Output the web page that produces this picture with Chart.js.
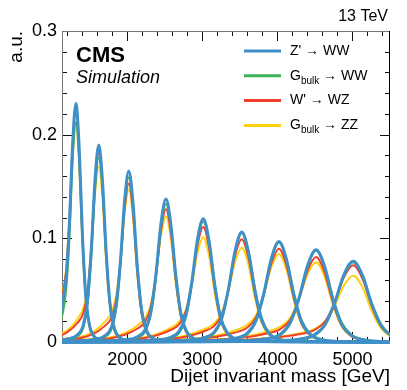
<!DOCTYPE html>
<html>
<head>
<meta charset="utf-8">
<script src="https://cdn.jsdelivr.net/npm/chart.js@4.4.1/dist/chart.umd.min.js"></script>
<style>
  html, body { margin: 0; padding: 0; background: #fff; }
  #wrap { width: 407px; height: 390px; }
</style>
</head>
<body>
<div id="wrap"><canvas id="chart" width="407" height="390"></canvas></div>
<script>
// ─── Data ────────────────────────────────────────────────────────────────────

// resonance peaks, GeV
const massPeaks = [1300, 1600, 2000, 2500, 3000, 3500, 4000, 4500, 5000];

// dijet mass sample points for each resonance [GeV]
const massX = [
  [595, 811, 955, 1063, 1135, 1185, 1229, 1272, 1315, 1358, 1401, 1445, 1495, 1567, 1675, 5600],
  [800, 1046, 1210, 1333, 1415, 1472, 1522, 1571, 1620, 1669, 1718, 1768, 1825, 1907, 2030, 5600],
  [1100, 1376, 1560, 1698, 1790, 1854, 1910, 1965, 2020, 2075, 2130, 2186, 2250, 2342, 2480, 5600],
  [1000, 1415, 1745, 1965, 2130, 2240, 2317, 2383, 2449, 2515, 2581, 2647, 2713, 2790, 2900, 3065, 5600],
  [1000, 1732, 2116, 2372, 2564, 2692, 2782, 2858, 2935, 3012, 3089, 3166, 3242, 3332, 3460, 3652, 5600],
  [1000, 2045, 2489, 2785, 3007, 3155, 3259, 3347, 3436, 3525, 3614, 3703, 3791, 3895, 4043, 4265, 5600],
  [1000, 2340, 2844, 3180, 3432, 3600, 3718, 3818, 3919, 4020, 4121, 4222, 4322, 4440, 4608, 4860, 5600],
  [1000, 2635, 3199, 3575, 3857, 4045, 4177, 4289, 4402, 4515, 4628, 4741, 4853, 4985, 5173, 5455, 5600],
  [1000, 2930, 3554, 3970, 4282, 4490, 4636, 4760, 4885, 5010, 5135, 5260, 5384, 5530, 5738, 6050],
];

// Z' -> WW
const zprimeWW = [
  [0.001, 0.003, 0.008, 0.018, 0.038, 0.062, 0.115, 0.191, 0.230, 0.1886, 0.1058, 0.046, 0.0166, 0.0046, 0.0012, 0],
  [0.0006, 0.0013, 0.0029, 0.0067, 0.0167, 0.0418, 0.0912, 0.1577, 0.190, 0.1558, 0.0874, 0.038, 0.0137, 0.0038, 0.001, 0],
  [0.0005, 0.0012, 0.0025, 0.0058, 0.0145, 0.0363, 0.0792, 0.137, 0.165, 0.1353, 0.0759, 0.033, 0.0119, 0.0033, 0.0008, 0],
  [0, 0.0004, 0.001, 0.0021, 0.0048, 0.0121, 0.0304, 0.0662, 0.1145, 0.138, 0.1132, 0.0635, 0.0276, 0.0099, 0.0028, 0.0007, 0],
  [0, 0.0004, 0.0008, 0.0018, 0.0042, 0.0105, 0.0262, 0.0571, 0.0988, 0.119, 0.0976, 0.0547, 0.0238, 0.0086, 0.0024, 0.0006, 0],
  [0, 0.0003, 0.0007, 0.0016, 0.0037, 0.0093, 0.0233, 0.0509, 0.088, 0.106, 0.0869, 0.0488, 0.0212, 0.0076, 0.0021, 0.0005, 0],
  [0, 0.0003, 0.0007, 0.0015, 0.0034, 0.0085, 0.0213, 0.0466, 0.0805, 0.097, 0.0795, 0.0446, 0.0194, 0.007, 0.0019, 0.0005, 0],
  [0, 0.0003, 0.0006, 0.0013, 0.0031, 0.0078, 0.0196, 0.0427, 0.0739, 0.089, 0.073, 0.0409, 0.0178, 0.0064, 0.0018, 0.0004, 0],
  [0, 0.0002, 0.0005, 0.0012, 0.0027, 0.0069, 0.0172, 0.0374, 0.0647, 0.078, 0.064, 0.0359, 0.0156, 0.0056, 0.0016, 0.0004],
];

// G_bulk -> WW
const gbulkWW = [
  [0.001, 0.002, 0.005, 0.012, 0.026, 0.05, 0.10, 0.176, 0.212, 0.176, 0.1018, 0.0466, 0.0174, 0.0053, 0.0013, 0],
  [0.0004, 0.0009, 0.0021, 0.0053, 0.0139, 0.0374, 0.0837, 0.1477, 0.178, 0.1477, 0.0854, 0.0392, 0.0146, 0.0045, 0.0011, 0],
  [0.0003, 0.0008, 0.0019, 0.0048, 0.0124, 0.0334, 0.0747, 0.132, 0.159, 0.132, 0.0763, 0.035, 0.013, 0.004, 0.001, 0],
  [0, 0.0003, 0.0007, 0.0016, 0.004, 0.0104, 0.0279, 0.0625, 0.1104, 0.133, 0.1104, 0.0638, 0.0293, 0.0109, 0.0033, 0.0008, 0],
  [0, 0.0002, 0.0006, 0.0014, 0.0035, 0.009, 0.0244, 0.0545, 0.0963, 0.116, 0.0963, 0.0557, 0.0255, 0.0095, 0.0029, 0.0007, 0],
  [0, 0.0002, 0.0005, 0.0013, 0.0032, 0.0082, 0.0221, 0.0494, 0.0872, 0.105, 0.0872, 0.0504, 0.0231, 0.0086, 0.0026, 0.0006, 0],
  [0, 0.0002, 0.0005, 0.0012, 0.0029, 0.0075, 0.0202, 0.0451, 0.0797, 0.096, 0.0797, 0.0461, 0.0211, 0.0079, 0.0024, 0.0006, 0],
  [0, 0.0002, 0.0004, 0.0011, 0.0026, 0.0069, 0.0185, 0.0414, 0.073, 0.088, 0.073, 0.0422, 0.0194, 0.0072, 0.0022, 0.0005, 0],
  [0, 0.0002, 0.0004, 0.0009, 0.0023, 0.006, 0.0162, 0.0362, 0.0639, 0.077, 0.0639, 0.037, 0.0169, 0.0063, 0.0019, 0.0005],
];

// W' -> WZ
const wprimeWZ = [
  [0.004, 0.008, 0.015, 0.028, 0.045, 0.068, 0.118, 0.19, 0.226, 0.1853, 0.104, 0.0452, 0.0163, 0.0045, 0.0011, 0],
  [0.0027, 0.0046, 0.010, 0.0182, 0.0282, 0.0491, 0.0928, 0.1529, 0.182, 0.1492, 0.0837, 0.0364, 0.0131, 0.0036, 0.0009, 0],
  [0.0023, 0.0038, 0.0084, 0.0153, 0.0237, 0.0413, 0.078, 0.1285, 0.153, 0.1255, 0.0704, 0.0306, 0.011, 0.0031, 0.0008, 0],
  [0, 0.0019, 0.0032, 0.007, 0.0128, 0.0198, 0.0346, 0.0653, 0.1075, 0.128, 0.105, 0.0589, 0.0256, 0.0092, 0.0026, 0.0006, 0],
  [0, 0.0017, 0.0028, 0.0061, 0.0111, 0.0172, 0.03, 0.0566, 0.0932, 0.111, 0.091, 0.0511, 0.0222, 0.008, 0.0022, 0.0006, 0],
  [0, 0.0015, 0.0025, 0.0054, 0.0099, 0.0153, 0.0267, 0.0505, 0.0832, 0.099, 0.0812, 0.0455, 0.0198, 0.0071, 0.002, 0.0005, 0],
  [0, 0.0014, 0.0023, 0.005, 0.009, 0.014, 0.0243, 0.0459, 0.0756, 0.090, 0.0738, 0.0414, 0.018, 0.0065, 0.0018, 0.0005, 0],
  [0, 0.0012, 0.0021, 0.0045, 0.0082, 0.0127, 0.0221, 0.0418, 0.0689, 0.082, 0.0672, 0.0377, 0.0164, 0.0059, 0.0016, 0.0004, 0],
  [0, 0.0011, 0.0019, 0.0041, 0.0074, 0.0115, 0.02, 0.0377, 0.0622, 0.074, 0.0607, 0.034, 0.0148, 0.0053, 0.0015, 0.0004],
];

// G_bulk -> ZZ
const gbulkZZ = [
  [0.005, 0.010, 0.018, 0.032, 0.048, 0.07, 0.118, 0.1785, 0.210, 0.1722, 0.0966, 0.042, 0.0151, 0.0042, 0.001, 0],
  [0.0034, 0.0059, 0.0118, 0.022, 0.033, 0.0524, 0.0913, 0.1437, 0.169, 0.1386, 0.0777, 0.0338, 0.0122, 0.0034, 0.0008, 0],
  [0.0029, 0.0051, 0.0103, 0.0191, 0.0287, 0.0456, 0.0794, 0.125, 0.147, 0.1205, 0.0676, 0.0294, 0.0106, 0.0029, 0.0007, 0],
  [0, 0.0024, 0.0042, 0.0085, 0.0157, 0.0236, 0.0375, 0.0653, 0.1029, 0.121, 0.0992, 0.0557, 0.0242, 0.0087, 0.0024, 0.0006, 0],
  [0, 0.002, 0.0035, 0.0071, 0.0131, 0.0197, 0.0313, 0.0545, 0.0859, 0.101, 0.0828, 0.0465, 0.0202, 0.0073, 0.002, 0.0005, 0],
  [0, 0.0018, 0.0032, 0.0064, 0.0118, 0.0177, 0.0282, 0.0491, 0.0774, 0.091, 0.0746, 0.0419, 0.0182, 0.0066, 0.0018, 0.0005, 0],
  [0, 0.0017, 0.003, 0.006, 0.0111, 0.0166, 0.0264, 0.0459, 0.0723, 0.085, 0.0697, 0.0391, 0.017, 0.0061, 0.0017, 0.0004, 0],
  [0, 0.0015, 0.0027, 0.0054, 0.010, 0.015, 0.0239, 0.0416, 0.0655, 0.077, 0.0631, 0.0354, 0.0154, 0.0055, 0.0015, 0.0004, 0],
  [0, 0.0013, 0.0022, 0.0045, 0.0083, 0.0125, 0.0198, 0.0346, 0.0544, 0.064, 0.0525, 0.0294, 0.0128, 0.0046, 0.0013, 0.0003],
];

// axis ranges and tick labels
const xRange = [1130, 5500];
const yRange = [0, 0.3];
const xTickValues = [2000, 3000, 4000, 5000];
const yTickValues = [0, 0.1, 0.2, 0.3];
const yTickLabels = ["0", "0.1", "0.2", "0.3"];
const X_MINOR_STEP = 200;
const Y_MINOR_STEP = 0.02;

// ─── Styles ──────────────────────────────────────────────────────────────────

const FONT = "'Liberation Sans', Arial, Helvetica, sans-serif";
const COLOR_BLUE   = "#3f8fc8";
const COLOR_GREEN  = "#3fb257";
const COLOR_RED    = "#ef402c";
const COLOR_YELLOW = "#ffd20f";

// blue first: Chart.js paints dataset 0 last, i.e. on top
const series = [
  { main: "Z'", sub: "",     rest: " \u2192 WW", values: zprimeWW, color: COLOR_BLUE,   width: 3 },
  { main: "G",  sub: "bulk", rest: " \u2192 WW", values: gbulkWW,  color: COLOR_GREEN,  width: 2 },
  { main: "W'", sub: "",     rest: " \u2192 WZ", values: wprimeWZ, color: COLOR_RED,    width: 2 },
  { main: "G",  sub: "bulk", rest: " \u2192 ZZ", values: gbulkZZ,  color: COLOR_YELLOW, width: 2 },
];

const datasets = [];
series.forEach(s => {
  massPeaks.forEach((m, i) => {
    datasets.push({
      label: s.main + s.sub + s.rest + " " + m,
      data: massX[i].map((x, j) => ({ x: x, y: s.values[i][j] })),
      borderColor: s.color,
      borderWidth: s.width,
      pointRadius: 0,
      fill: false,
      cubicInterpolationMode: "monotone",
      clip: { left: 0, top: 0, right: 0, bottom: 4 },
    });
  });
});

// ─── Plugin: frame, inward ticks (all four sides), labels, legend ───────────

const frameTicks = {
  id: "frameTicks",
  beforeDatasetsDraw(chart) {
    const { ctx, chartArea: a, scales: { x, y } } = chart;
    ctx.save();
    ctx.lineWidth = 1;
    ctx.strokeStyle = "#111";
    ctx.beginPath();
    const isMajorX = v => xTickValues.includes(v);
    for (let v = Math.ceil(xRange[0] / X_MINOR_STEP) * X_MINOR_STEP; v <= xRange[1]; v += X_MINOR_STEP) {
      const px = Math.round(x.getPixelForValue(v)) + 0.5;
      const len = isMajorX(v) ? 10 : 5;
      ctx.moveTo(px, a.bottom); ctx.lineTo(px, a.bottom - len);
      ctx.moveTo(px, a.top);    ctx.lineTo(px, a.top + len);
    }
    for (let k = 0; k * Y_MINOR_STEP <= yRange[1] + 1e-9; k++) {
      const v = k * Y_MINOR_STEP;
      const py = Math.round(y.getPixelForValue(v)) + 0.5;
      const len = (k % 5 === 0) ? 10 : 5;
      ctx.moveTo(a.left, py);  ctx.lineTo(a.left + len, py);
      ctx.moveTo(a.right, py); ctx.lineTo(a.right - len, py);
    }
    ctx.stroke();

    // frame: left/top a bit lighter, like the original
    ctx.strokeStyle = "#777";
    ctx.beginPath();
    ctx.moveTo(a.left + 0.5, a.bottom); ctx.lineTo(a.left + 0.5, a.top + 0.5); ctx.lineTo(a.right, a.top + 0.5);
    ctx.stroke();
    ctx.strokeStyle = "#000";
    ctx.beginPath();
    ctx.moveTo(a.right - 0.5, a.top); ctx.lineTo(a.right - 0.5, a.bottom - 0.5); ctx.lineTo(a.left, a.bottom - 0.5);
    ctx.stroke();
    ctx.restore();
  },
  afterDraw(chart) {
    const { ctx } = chart;
    ctx.save();
    ctx.fillStyle = "#000";
    ctx.textBaseline = "alphabetic";

    ctx.font = "bold 22px " + FONT;
    ctx.fillText("CMS", 76, 62);
    ctx.font = "italic 18px " + FONT;
    ctx.fillText("Simulation", 76, 83);

    ctx.textAlign = "right";
    ctx.font = "16px " + FONT;
    ctx.fillText("13 TeV", 388, 21);
    ctx.textAlign = "left";

    // legend
    series.forEach((s, i) => {
      const yy = 51 + i * 24.8;
      ctx.strokeStyle = s.color;
      ctx.lineWidth = 3;
      ctx.beginPath();
      ctx.moveTo(244, yy); ctx.lineTo(281, yy);
      ctx.stroke();

      let tx = 290;
      ctx.textBaseline = "middle";
      ctx.font = "14px " + FONT;
      ctx.fillText(s.main, tx, yy);
      tx += ctx.measureText(s.main).width;
      if (s.sub) {
        ctx.font = "10px " + FONT;
        ctx.fillText(s.sub, tx, yy + 5);
        tx += ctx.measureText(s.sub).width;
        ctx.font = "14px " + FONT;
      }
      ctx.fillText(s.rest, tx, yy);
    });
    ctx.restore();
  }
};

// ─── Chart ───────────────────────────────────────────────────────────────────

new Chart(document.getElementById("chart").getContext("2d"), {
  type: "line",
  data: { datasets: datasets },
  plugins: [frameTicks],
  options: {
    responsive: false,
    animation: false,
    events: [],
    layout: { padding: { top: 31, right: 17, left: 0, bottom: 0 } },
    plugins: { legend: { display: false }, tooltip: { enabled: false } },
    scales: {
      x: {
        type: "linear",
        min: xRange[0],
        max: xRange[1],
        afterFit: s => { s.height = 48; },
        afterBuildTicks: s => { s.ticks = xTickValues.map(v => ({ value: v })); },
        grid: { display: false, drawTicks: false },
        border: { display: false },
        ticks: {
          padding: 7,
          maxRotation: 0,
          color: "#000",
          font: { family: FONT, size: 18 },
          callback: v => String(v),
        },
        title: {
          display: true,
          text: "Dijet invariant mass [GeV]",
          align: "end",
          color: "#000",
          font: { family: FONT, size: 19 },
          padding: { top: 0, bottom: 2 },
        },
      },
      y: {
        min: yRange[0],
        max: yRange[1],
        afterFit: s => { s.width = 62; },
        afterBuildTicks: s => { s.ticks = yTickValues.map(v => ({ value: v })); },
        grid: { display: false, drawTicks: false },
        border: { display: false },
        ticks: {
          padding: 5,
          color: "#000",
          font: { family: FONT, size: 18 },
          callback: (v, i) => yTickLabels[i],
        },
        title: {
          display: true,
          text: "a.u.",
          align: "end",
          color: "#000",
          font: { family: FONT, size: 19 },
          padding: { top: 5, bottom: 0 },
        },
      },
    },
  },
});
</script>
</body>
</html>
